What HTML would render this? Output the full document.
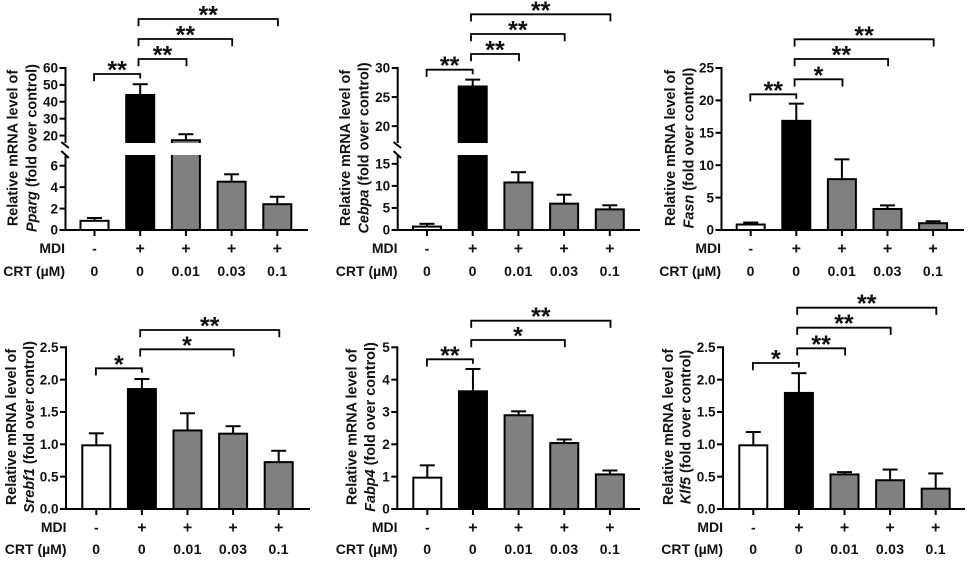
<!DOCTYPE html>
<html lang="en">
<head>
<meta charset="utf-8">
<title>Relative mRNA levels</title>
<style>
html,body{margin:0;padding:0;background:#fff;}
body{width:969px;height:568px;overflow:hidden;}
svg{display:block;filter:blur(0.3px);}
text{font-family:"Liberation Sans",Arial,sans-serif;font-weight:bold;fill:#111;}
</style>
</head>
<body>
<svg id="figure" width="969" height="568" viewBox="0 0 969 568" xmlns="http://www.w3.org/2000/svg"></svg>
<script>
// Shared categories
const mdiLabels = ['-', '+', '+', '+', '+'];
const crtLabels = ['0', '0', '0.01', '0.03', '0.1'];

// Series values (means and upper error-bar ends)
const ppargMeans = [0.95, 44.6, 17.8, 4.6, 2.5];
const ppargUppers = [1.12, 50.4, 20.8, 5.2, 3.1];
const cebpaMeans = [1.0, 27, 11, 6.2, 4.9];
const cebpaUppers = [1.4, 28, 13.1, 8, 5.6];
const fasnMeans = [1.0, 17, 8, 3.4, 1.2];
const fasnUppers = [1.15, 19.5, 10.9, 3.8, 1.35];
const srebf1Means = [1.0, 1.87, 1.23, 1.18, 0.74];
const srebf1Uppers = [1.17, 2.01, 1.48, 1.28, 0.9];
const fabp4Means = [1.0, 3.67, 2.93, 2.07, 1.1];
const fabp4Uppers = [1.35, 4.33, 3.02, 2.15, 1.19];
const klf5Means = [1.0, 1.81, 0.55, 0.46, 0.33];
const klf5Uppers = [1.19, 2.1, 0.57, 0.61, 0.55];

// Tick labels
const ppargLowTicks = ['0', '2', '4', '6'];
const ppargHighTicks = ['20', '30', '40', '50', '60'];
const cebpaLowTicks = ['0', '5', '10', '15'];
const cebpaHighTicks = ['20', '25', '30'];
const fasnTicks = ['0', '5', '10', '15', '20', '25'];
const srebf1Ticks = ['0.0', '0.5', '1.0', '1.5', '2.0', '2.5'];
const fabp4Ticks = ['0', '1', '2', '3', '4', '5'];
const klf5Ticks = ['0.0', '0.5', '1.0', '1.5', '2.0', '2.5'];

// Significance comparisons: [from category, to category, label]
const ppargSig = [[0, 1, '**'], [1, 2, '**'], [1, 3, '**'], [1, 4, '**']];
const cebpaSig = [[0, 1, '**'], [1, 2, '**'], [1, 3, '**'], [1, 4, '**']];
const fasnSig = [[0, 1, '**'], [1, 2, '*'], [1, 3, '**'], [1, 4, '**']];
const srebf1Sig = [[0, 1, '*'], [1, 3, '*'], [1, 4, '**']];
const fabp4Sig = [[0, 1, '**'], [1, 3, '*'], [1, 4, '**']];
const klf5Sig = [[0, 1, '*'], [1, 2, '**'], [1, 3, '**'], [1, 4, '**']];

const SVGNS = 'http://www.w3.org/2000/svg';
const figure = document.getElementById('figure');
const BAR_FILLS = ['#ffffff', '#000000', '#808080', '#808080', '#808080'];
const STROKE = 2;

function make(tag, attrs, parent) {
  const el = document.createElementNS(SVGNS, tag);
  for (const key in attrs) el.setAttribute(key, attrs[key]);
  parent.appendChild(el);
  return el;
}
function line(parent, x1, y1, x2, y2, w) {
  return make('line', {x1: x1, y1: y1, x2: x2, y2: y2, stroke: '#000', 'stroke-width': w || STROKE}, parent);
}

function linearScale(d0, d1, r0, r1) {
  return function (v) { return r0 + (v - d0) * (r1 - r0) / (d1 - d0); };
}

function drawPanel(p) {
  const g = make('g', {}, figure);
  
  

  const base = p.baseY, top = p.topY;
  const xAt = function (i) { return p.x0 + i * p.step; };
  let yAt, lowTickY, highTickY;
  if (p.brk) {
    const low = linearScale(0, p.brk.lowMax, base, p.brk.lowTop);
    const high = linearScale(p.brk.highMin, p.brk.highMax, p.brk.highBottom, top);
    yAt = function (v) { return v <= p.brk.lowMax ? low(v) : high(v); };
    lowTickY = low; highTickY = high;
  } else {
    const one = linearScale(0, p.max, base, top);
    yAt = one; lowTickY = one;
  }

  // Bars and error bars (the outer edge of the bar outline sits on the value)
  p.means.forEach(function (m, i) {
    const cx = xAt(i), bw = 28, yTop = yAt(m) + STROKE / 2, yUp = yAt(p.uppers[i]);

    const err = make('g', {}, g);
    
    
    line(err, cx, yTop, cx, yUp);
    line(err, cx - 7.5, yUp, cx + 7.5, yUp);

    const bar = make('g', {}, g);
    
    
    if (p.brk && m > p.brk.lowMax) {
      const lt = p.brk.lowTop, hb = p.brk.highBottom;
      make('rect', {x: cx - bw / 2, y: lt, width: bw, height: base - lt, fill: BAR_FILLS[i]}, bar);
      make('rect', {x: cx - bw / 2, y: yTop, width: bw, height: hb - yTop, fill: BAR_FILLS[i]}, bar);
      line(bar, cx - bw / 2, lt, cx - bw / 2, base);
      line(bar, cx + bw / 2, lt, cx + bw / 2, base);
      line(bar, cx - bw / 2, hb, cx - bw / 2, yTop - 1);
      line(bar, cx + bw / 2, hb, cx + bw / 2, yTop - 1);
      line(bar, cx - bw / 2, yTop, cx + bw / 2, yTop);
    } else {
      make('rect', {x: cx - bw / 2, y: yTop, width: bw, height: base - yTop, fill: BAR_FILLS[i], stroke: '#000', 'stroke-width': STROKE}, bar);
    }
  });

  // Y axis
  const yAxis = make('g', {}, g);
  
  
  if (p.brk) {
    line(yAxis, p.axisX, top - 1, p.axisX, p.brk.highBottom);
    line(yAxis, p.axisX, p.brk.lowTop + 1, p.axisX, base);
    line(yAxis, p.axisX - 4.2, p.brk.highBottom - 1, p.axisX + 3.4, p.brk.highBottom + 5);
    line(yAxis, p.axisX - 4.2, p.brk.lowTop - 4, p.axisX + 3.4, p.brk.lowTop + 3);
  } else {
    line(yAxis, p.axisX, top - 1, p.axisX, base);
  }
  function drawTicks(ticks, scale) {
    ticks.forEach(function (t) {
      const y = scale(parseFloat(t));
      line(yAxis, p.axisX - 6, y, p.axisX, y);
      const label = make('text', {x: p.axisX - 7.5, y: y + 4.7, 'text-anchor': 'end', 'font-size': 13.5}, yAxis);
      label.textContent = t;
      
      
    });
  }
  drawTicks(p.lowTicks, lowTickY);
  if (p.highTicks) drawTicks(p.highTicks, highTickY);

  // X axis
  const xAxis = make('g', {}, g);
  
  
  line(xAxis, p.axisX - 6, base, p.xEnd, base);
  mdiLabels.forEach(function (lab, i) {
    line(xAxis, xAt(i), base, xAt(i), base + 6);
    const mdi = make('text', {x: xAt(i), y: p.mdiY + 5.4, 'text-anchor': 'middle', 'font-size': lab === '+' ? 16 : 14}, xAxis);
    mdi.textContent = lab;
    
    
    const crt = make('text', {x: xAt(i), y: p.crtY + 5, 'text-anchor': 'middle', 'font-size': 14, 'letter-spacing': 0.3}, xAxis);
    crt.textContent = crtLabels[i];
    
    
  });

  const mdiTitle = make('text', {x: p.rowX, y: p.mdiY + 5, 'text-anchor': 'end', 'font-size': 14}, g);
  mdiTitle.textContent = 'MDI';
  
  
  const crtTitle = make('text', {x: p.rowX, y: p.crtY + 5, 'text-anchor': 'end', 'font-size': 14}, g);
  crtTitle.textContent = 'CRT (\u00b5M)';
  
  

  // Y axis title
  const title = make('g', {}, g);
  
  
  const t1 = make('text', {transform: 'translate(' + (p.titleX + 5) + ',' + p.titleY + ') rotate(-90)', 'text-anchor': 'middle', 'font-size': 14.4}, title);
  t1.textContent = 'Relative mRNA level of';
  const t2 = make('text', {transform: 'translate(' + (p.titleX + p.titleGap + 5) + ',' + p.titleY + ') rotate(-90)', 'text-anchor': 'middle', 'font-size': 14.4}, title);
  const gene = make('tspan', {'font-style': 'italic'}, t2);
  gene.textContent = p.gene;
  const rest = make('tspan', {}, t2);
  rest.textContent = ' (fold over control)';

  // Significance brackets
  p.sig.forEach(function (s, i) {
    const br = make('g', {}, g);
    
    
    const x1 = xAt(s[0]) + (s[0] === 1 ? -1.7 : -0.4);
    const x2 = xAt(s[1]) + (s[0] === 1 ? 0.6 : 0);
    const y = p.sigY[i];
    make('path', {d: 'M' + x1 + ' ' + (y + 7.2) + 'V' + y + 'H' + x2 + 'V' + (y + (s[0] === 0 ? 4.5 : 7.2)), fill: 'none', stroke: '#000', 'stroke-width': 1.8}, br);
    const star = make('text', {x: (x1 + x2) / 2, y: y + 4.5, 'text-anchor': 'middle', 'font-size': 25}, br);
    star.textContent = s[2];
  });
}

const panels = [
  {id: 'pparg', gene: 'Pparg', means: ppargMeans, uppers: ppargUppers, lowTicks: ppargLowTicks, highTicks: ppargHighTicks, sig: ppargSig,
   axisX: 65.5, x0: 94.5, step: 45.7, xEnd: 308, baseY: 230, topY: 68, mdiY: 248, crtY: 271, rowX: 65, titleX: 12.3, titleGap: 19.3, titleY: 148,
   brk: {lowMax: 7, lowTop: 155, highMin: 15.6, highMax: 60, highBottom: 143}, sigY: [74, 59, 39, 19]},
  {id: 'cebpa', gene: 'Cebpa', means: cebpaMeans, uppers: cebpaUppers, lowTicks: cebpaLowTicks, highTicks: cebpaHighTicks, sig: cebpaSig,
   axisX: 397.7, x0: 427, step: 45.7, xEnd: 640, baseY: 230, topY: 68, mdiY: 248, crtY: 271, rowX: 397.5, titleX: 345, titleGap: 18.5, titleY: 148,
   brk: {lowMax: 17, lowTop: 155, highMin: 17.1, highMax: 30, highBottom: 143}, sigY: [69.7, 54, 34, 14.3]},
  {id: 'fasn', gene: 'Fasn', means: fasnMeans, uppers: fasnUppers, lowTicks: fasnTicks, sig: fasnSig, max: 25,
   axisX: 721.5, x0: 750.7, step: 45.6, xEnd: 964, baseY: 230, topY: 68, mdiY: 248, crtY: 271, rowX: 721, titleX: 670, titleGap: 18.3, titleY: 148,
   sigY: [94.3, 79.3, 59, 39.3]},
  {id: 'srebf1', gene: 'Srebf1', means: srebf1Means, uppers: srebf1Uppers, lowTicks: srebf1Ticks, sig: srebf1Sig, max: 2.5,
   axisX: 66, x0: 96.3, step: 45.6, xEnd: 310, baseY: 509, topY: 347.3, mdiY: 527, crtY: 549, rowX: 66.5, titleX: 11, titleGap: 17.8, titleY: 427,
   sigY: [368.3, 349.3, 330]},
  {id: 'fabp4', gene: 'Fabp4', means: fabp4Means, uppers: fabp4Uppers, lowTicks: fabp4Ticks, sig: fabp4Sig, max: 5,
   axisX: 397.3, x0: 427.3, step: 45.65, xEnd: 640, baseY: 509, topY: 347.3, mdiY: 527, crtY: 549, rowX: 397.5, titleX: 351.7, titleGap: 18.3, titleY: 427,
   sigY: [359.3, 340, 320.7]},
  {id: 'klf5', gene: 'Klf5', means: klf5Means, uppers: klf5Uppers, lowTicks: klf5Ticks, sig: klf5Sig, max: 2.5,
   axisX: 723, x0: 753.3, step: 45.6, xEnd: 965, baseY: 509, topY: 347.3, mdiY: 527, crtY: 549, rowX: 723, titleX: 668, titleGap: 17.3, titleY: 427,
   sigY: [363, 348.3, 327.7, 307.7]}
];
panels.forEach(drawPanel);
</script>
</body>
</html>
